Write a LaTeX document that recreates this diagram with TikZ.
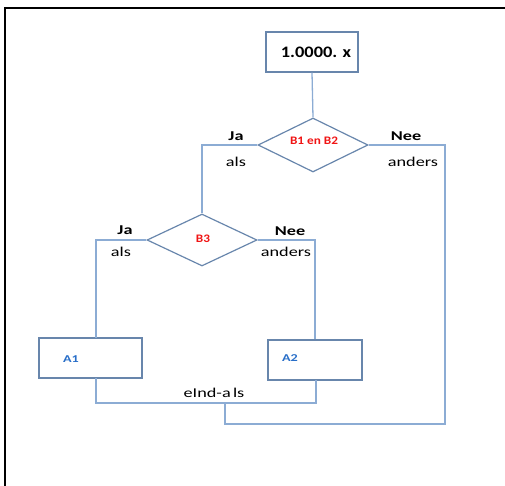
\documentclass[tikz,border=0pt]{standalone}
\usepackage{fontspec}
\setmainfont{Carlito}
\newfontfamily\lab[FakeStretch=1.35]{Carlito}
\newfontfamily\labw[FakeStretch=1.15]{Carlito}
\usetikzlibrary{shapes.geometric}
\definecolor{shapeline}{RGB}{104,134,172}
\definecolor{conn}{RGB}{140,172,212}
\definecolor{redtxt}{RGB}{240,20,20}
\definecolor{bluetxt}{RGB}{40,110,200}
\begin{document}
\begin{tikzpicture}[x=1pt,y=-1pt,
  boxst/.style={draw=shapeline,line width=1.3pt,rectangle,inner sep=0pt},
  diast/.style={draw=shapeline,line width=1.2pt,diamond,aspect=2,inner sep=0pt,minimum width=110pt},
  connst/.style={draw=conn,line width=1.3pt},
  bl/.style={inner sep=0pt,font=\lab\bfseries\fontsize{13.5}{13.5}\selectfont},
  rl/.style={inner sep=0pt,font=\lab\fontsize{13.5}{13.5}\selectfont},
  cond/.style={inner sep=0pt,text=redtxt,font=\labw\bfseries\fontsize{11.5}{11.5}\selectfont},
  act/.style={inner sep=0pt,text=bluetxt,font=\lab\bfseries\fontsize{10.5}{10.5}\selectfont}]
\useasboundingbox (0,0) rectangle (505,486);
% outer frame
\draw[black,line width=1.5pt] (5,486) -- (5,8) -- (505,8);
% nodes
\node[boxst,minimum width=92pt,minimum height=40pt] (top) at (312,52) {};
\node[inner sep=0pt,font=\labw\bfseries\fontsize{16}{16}\selectfont] (toptxt) at (316,52) {1.0000.\,\,x};
\node[diast,minimum height=54pt] (d1) at (313,145) {};
\node[cond] (c1) at (314,141) {B1 en B2};
\node[diast,minimum height=52pt] (d2) at (202,240) {};
\node[cond] (c2) at (203,239) {B3};
\node[boxst,minimum width=103pt,minimum height=40pt] (a1) at (90.5,358) {};
\node[act] (a1t) at (71,359) {A1};
\node[boxst,minimum width=94pt,minimum height=40pt] (a2) at (315,360) {};
\node[act] (a2t) at (290,358) {A2};
% labels
\node[bl] (ja1) at (236,136) {Ja};
\node[rl] (als1) at (236,162) {als};
\node[bl] (nee1) at (406,136) {Nee};
\node[rl] (and1) at (413,162) {anders};
\node[bl] (ja2) at (125,230) {Ja};
\node[rl] (als2) at (121,252) {als};
\node[bl] (nee2) at (290,231) {Nee};
\node[rl] (and2) at (286,252) {anders};
\node[rl] (eind) at (214,393) {eInd-a\,ls};
% helper coordinates
\coordinate (a1in) at (96,338);
\coordinate (a1out) at (96,378);
\coordinate (a2out) at (316,380);
\coordinate (j1) at (96,403);
\coordinate (j2) at (316,403);
\coordinate (m1) at (225,403);
\coordinate (m2) at (225,424);
\coordinate (r1) at (445,424);
\coordinate (r2) at (445,145);
% connectors
\draw[connst] (top.south) -- (d1.north);
\draw[connst] (d1.west) -| (d2.north);
\draw[connst] (d2.west) -| (a1in);
\draw[connst] (d2.east) -| (a2.north);
\draw[connst] (a1out) -- (j1) -- (j2) -- (a2out);
\draw[connst] (m1) -- (m2) -- (r1) -- (r2) -- (d1.east);
\end{tikzpicture}
\end{document}
